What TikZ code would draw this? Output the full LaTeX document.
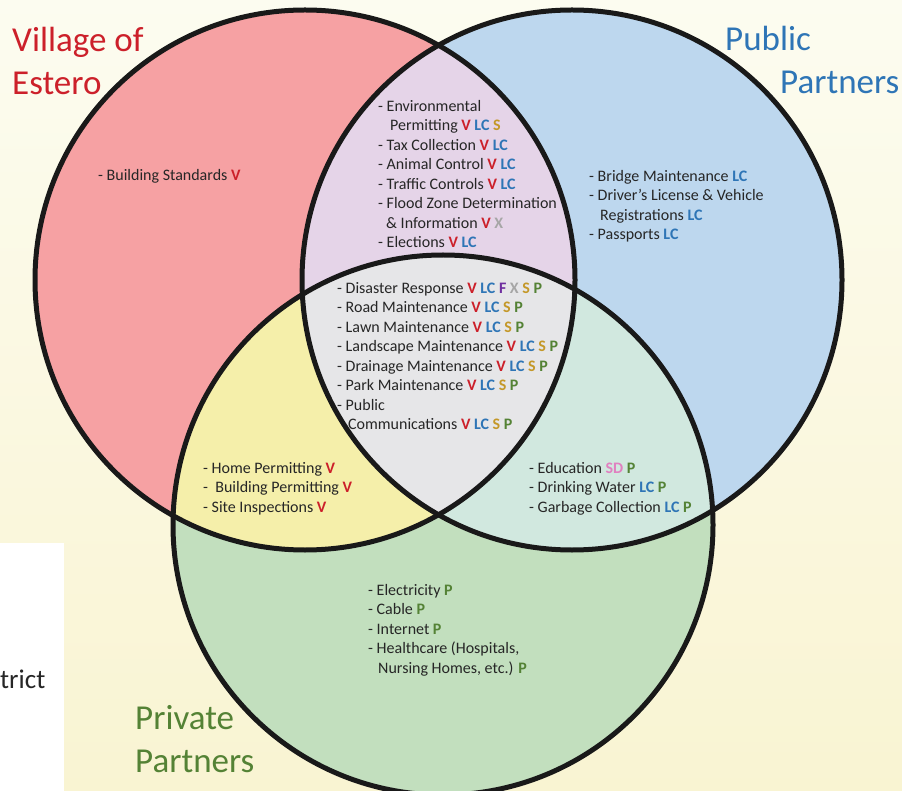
\documentclass[tikz,border=0pt]{standalone}
\usepackage{fontspec}
\setmainfont{Carlito}
\usepackage{tikz}
\usetikzlibrary{positioning}

\definecolor{bgtop}{RGB}{252,252,240}
\definecolor{bgbot}{RGB}{249,244,210}
\definecolor{fillV}{RGB}{246,161,163}
\definecolor{fillLC}{RGB}{189,215,238}
\definecolor{fillP}{RGB}{194,223,190}
\definecolor{fillVLC}{RGB}{229,212,232}
\definecolor{fillVP}{RGB}{245,239,170}
\definecolor{fillLCP}{RGB}{209,232,223}
\definecolor{fillAll}{RGB}{230,230,232}
\definecolor{colV}{RGB}{204,32,42}
\definecolor{colLC}{RGB}{46,117,182}
\definecolor{colS}{RGB}{196,152,40}
\definecolor{colP}{RGB}{84,130,53}
\definecolor{colF}{RGB}{112,48,160}
\definecolor{colX}{RGB}{166,166,166}
\definecolor{colSD}{RGB}{224,128,192}
\definecolor{ink}{RGB}{38,38,38}

\newcommand{\tagV}{\textcolor{colV}{\textbf{V}}}
\newcommand{\tagLC}{\textcolor{colLC}{\textbf{LC}}}
\newcommand{\tagS}{\textcolor{colS}{\textbf{S}}}
\newcommand{\tagP}{\textcolor{colP}{\textbf{P}}}
\newcommand{\tagF}{\textcolor{colF}{\textbf{F}}}
\newcommand{\tagX}{\textcolor{colX}{\textbf{X}}}
\newcommand{\tagSD}{\textcolor{colSD}{\textbf{SD}}}

\begin{document}
\begin{tikzpicture}
      [
        x=1pt, y=-1pt,
        ring/.style={draw=black!90, line width=5pt},
        items/.style={anchor=north west, inner sep=0pt, align=left, text=ink, font=\fontsize{16}{19.5}\selectfont},
        title/.style={anchor=north west, inner sep=0pt, align=left, font=\fontsize{35}{43}\selectfont}
      ]
      \useasboundingbox (0,0) rectangle (902,791);
      \clip (0,0) rectangle (902,791);
      \shade[top color=bgtop, bottom color=bgbot] (0,0) rectangle (902,791);
      \fill[white] (0,543) rectangle (64,791);
      \node[items, font=\fontsize{27}{30}\selectfont] (cut) at (0,670) {trict};

      \coordinate (cV) at (305,280);
      \coordinate (cLC) at (572,280);
      \coordinate (cP) at (443,525);
      \fill[fillV] (cV) circle (270pt);
      \fill[fillLC] (cLC) circle (270pt);
      \fill[fillP] (cP) circle (270pt);
      \begin{scope}
        \clip (cV) circle (270pt);
        \fill[fillVLC] (cLC) circle (270pt);
        \fill[fillVP] (cP) circle (270pt);
      \end{scope}
      \begin{scope}
        \clip (cLC) circle (270pt);
        \fill[fillLCP] (cP) circle (270pt);
      \end{scope}
      \begin{scope}
        \clip (cV) circle (270pt);
        \clip (cLC) circle (270pt);
        \fill[fillAll] (cP) circle (270pt);
      \end{scope}
      \draw[ring] (cV) circle (270pt);
      \draw[ring] (cLC) circle (270pt);
      \draw[ring] (cP) circle (270pt);

      \node[title, text=colV] (tV) at (12,27) {Village of\\Estero};
      \node[title, text=colLC] (tLC) at (725,26) {Public\\\hspace*{55pt}Partners};
      \node[title, text=colP] (tP) at (135,705) {Private\\Partners};

      \node[items] (onlyV) at (98,169) {- Building Standards \tagV};
      \node[items] (vlc) at (378,100) {- Environmental\\
        \hspace*{12pt}Permitting \tagV\ \tagLC\ \tagS\\
        - Tax Collection \tagV\ \tagLC\\
        - Animal Control \tagV\ \tagLC\\
        - Traffic Controls \tagV\ \tagLC\\
        - Flood Zone Determination\\
        \hspace*{8pt}\& Information \tagV\ \tagX\\
        - Elections \tagV\ \tagLC};
      \node[items] (all) at (337,282) {- Disaster Response \tagV\ \tagLC\ \tagF\ \tagX\ \tagS\ \tagP\\
        - Road Maintenance \tagV\ \tagLC\ \tagS\ \tagP\\
        - Lawn Maintenance \tagV\ \tagLC\ \tagS\ \tagP\\
        - Landscape Maintenance \tagV\ \tagLC\ \tagS\ \tagP\\
        - Drainage Maintenance \tagV\ \tagLC\ \tagS\ \tagP\\
        - Park Maintenance \tagV\ \tagLC\ \tagS\ \tagP\\
        - Public\\
        \hspace*{11pt}Communications \tagV\ \tagLC\ \tagS\ \tagP};
      \node[items] (onlyLC) at (589,170) {- Bridge Maintenance \tagLC\\
        - Driver’s License \& Vehicle\\
        \hspace*{11pt}Registrations \tagLC\\
        - Passports \tagLC};
      \node[items] (vp) at (203,462) {- Home Permitting \tagV\\
        -\ \ Building Permitting \tagV\\
        - Site Inspections \tagV};
      \node[items] (lcp) at (529,462) {- Education \tagSD\ \tagP\\
        - Drinking Water \tagLC\ \tagP\\
        - Garbage Collection \tagLC\ \tagP};
      \node[items] (onlyP) at (368,584) {- Electricity \tagP\\
        - Cable \tagP\\
        - Internet \tagP\\
        - Healthcare (Hospitals,\\
        \hspace*{10pt}Nursing Homes, etc.) \tagP};
    \end{tikzpicture}
\end{document}
